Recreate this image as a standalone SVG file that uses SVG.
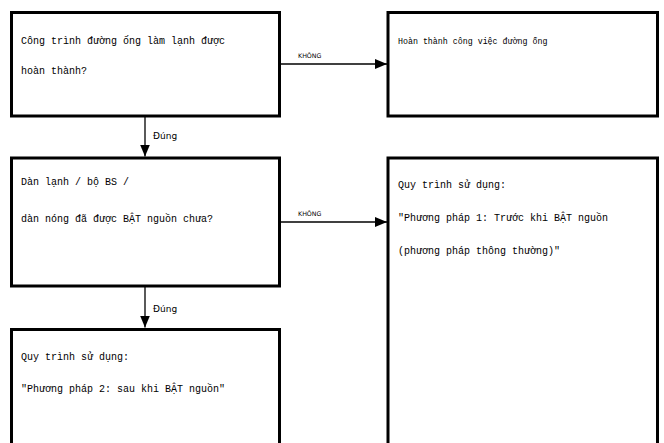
<svg xmlns="http://www.w3.org/2000/svg" width="664" height="443" viewBox="0 0 664 443">
<style>
.box{fill:#fff;stroke:#000;stroke-width:3}
.t{font-family:"Liberation Mono","DejaVu Sans Mono",monospace;font-size:10px;fill:#000}
.ts{font-family:"Liberation Mono","DejaVu Sans Mono",monospace;font-size:8.3px;fill:#000}
.lbl{font-family:"DejaVu Sans","Liberation Sans",sans-serif;font-size:9px;fill:#000}
.lbs{font-family:"DejaVu Sans","Liberation Sans",sans-serif;font-size:6.3px;fill:#000}
.c{stroke:#000;stroke-width:1.3;fill:none}
</style>
<defs>
<marker id="ah" markerWidth="12" markerHeight="10" refX="12" refY="5" orient="auto" markerUnits="userSpaceOnUse">
<path d="M0,0 L12,5 L0,10 Z" fill="#000"/>
</marker>
</defs>
<rect width="664" height="443" fill="#fff"/>
<g id="connectors">
<line class="c" x1="280" y1="64" x2="387" y2="64" marker-end="url(#ah)"/>
<text class="lbs" x="298" y="58">KHÔNG</text>
<line class="c" x1="145" y1="116" x2="145" y2="156.5" marker-end="url(#ah)"/>
<text class="lbl" x="153" y="139">Đúng</text>
<line class="c" x1="280" y1="222" x2="387" y2="222" marker-end="url(#ah)"/>
<text class="lbs" x="298" y="216">KHÔNG</text>
<line class="c" x1="145" y1="286" x2="145" y2="327.5" marker-end="url(#ah)"/>
<text class="lbl" x="153" y="312">Đúng</text>
</g>
<g id="n1">
<rect class="box" x="11.5" y="12.5" width="268" height="103.5"/>
<text class="t" x="21" y="44">Công trình đường ống làm lạnh được</text>
<text class="t" x="21" y="74">hoàn thành?</text>
</g>
<g id="n2">
<rect class="box" x="388" y="12.5" width="269.5" height="103.5"/>
<text class="ts" x="398" y="44">Hoàn thành công việc đường ống</text>
</g>
<g id="n3">
<rect class="box" x="11.5" y="158" width="268" height="128"/>
<text class="t" x="21" y="185">Dàn lạnh / bộ BS /</text>
<text class="t" x="21" y="222">dàn nóng đã được BẬT nguồn chưa?</text>
</g>
<g id="n4">
<rect class="box" x="388" y="158" width="269.5" height="300"/>
<text class="t" x="398" y="188">Quy trình sử dụng:</text>
<text class="t" x="398" y="221">"Phương pháp 1: Trước khi BẬT nguồn</text>
<text class="t" x="398" y="254">(phương pháp thông thường)"</text>
</g>
<g id="n5">
<rect class="box" x="11.5" y="329.5" width="268" height="130"/>
<text class="t" x="21" y="360">Quy trình sử dụng:</text>
<text class="t" x="21" y="392">"Phương pháp 2: sau khi BẬT nguồn"</text>
</g>
</svg>
